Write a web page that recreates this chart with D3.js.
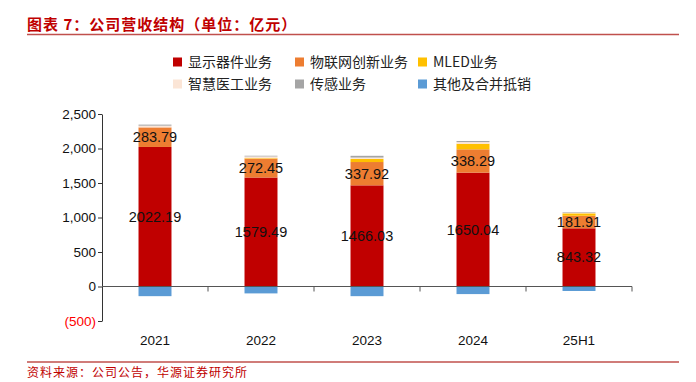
<!DOCTYPE html>
<html>
<head>
<meta charset="utf-8">
<script src="https://cdn.jsdelivr.net/npm/d3@7"></script>
<style>
  body { margin: 0; background: #fff; }
  text { font-family: "Liberation Sans", Arial, "Noto Sans CJK SC", sans-serif; }
  .cjk { font-family: "Noto Sans CJK SC", sans-serif; }
</style>
</head>
<body>
<svg id="chart" width="696" height="382"></svg>
<script>
// data (亿元)
var years = ['2021', '2022', '2023', '2024', '25H1'];
var display = [2022.19, 1579.49, 1466.03, 1650.04, 843.32];   // 显示器件业务
var iot = [283.79, 272.45, 337.92, 338.29, 181.91];           // 物联网创新业务
var mled = [0, 8, 45, 80, 35];                                // MLED业务
var medical = [25, 25, 20, 25, 10];                           // 智慧医工业务
var sensing = [15, 10, 25, 15, 8];                            // 传感业务
var other = [-140, -100, -140, -110, -65];                    // 其他及合并抵销
var yTicks = [-500, 0, 500, 1000, 1500, 2000, 2500];

var seriesNames = ['显示器件业务', '物联网创新业务', 'MLED业务', '智慧医工业务', '传感业务', '其他及合并抵销'];
var colors = ['#C00000', '#ED7D31', '#FFC000', '#FBE5D6', '#A5A5A5', '#5B9BD5'];
var stackSeries = [display, iot, mled, medical, sensing];

var svg = d3.select('#chart');

// title + rule
svg.append('text')
  .attr('class', 'cjk')
  .attr('x', 27).attr('y', 30)
  .attr('fill', '#C00000')
  .attr('font-size', 15).attr('font-weight', 'bold')
  .attr('letter-spacing', 1)
  .text('图表 7：公司营收结构（单位：亿元）');
svg.append('line')
  .attr('x1', 27).attr('x2', 679).attr('y1', 34.5).attr('y2', 34.5)
  .attr('stroke', '#C0504D').attr('stroke-width', 1.5);

// scales
var x = d3.scaleBand().domain(years).range([102, 632])
  .paddingInner(0.689).paddingOuter(0.3445);
var y = d3.scaleLinear().domain([-500, 2500]).range([321, 114]);

// stacked bars
years.forEach(function(yr, i) {
  var base = 0;
  stackSeries.forEach(function(s, k) {
    var v = s[i];
    if (v > 0) {
      svg.append('rect')
        .attr('x', x(yr)).attr('width', x.bandwidth())
        .attr('y', y(base + v)).attr('height', y(base) - y(base + v))
        .attr('fill', colors[k]);
    }
    base += v;
  });
  svg.append('rect')
    .attr('x', x(yr)).attr('width', x.bandwidth())
    .attr('y', y(0)).attr('height', y(other[i]) - y(0))
    .attr('fill', colors[5]);
});

// value labels
years.forEach(function(yr, i) {
  var cx = x(yr) + x.bandwidth() / 2;
  svg.append('text')
    .attr('x', cx).attr('y', y(display[i] / 2)).attr('dy', '0.35em')
    .attr('text-anchor', 'middle').attr('font-size', 14.5).attr('fill', '#111')
    .text(display[i].toFixed(2));
  svg.append('text')
    .attr('x', cx).attr('y', y(display[i] + iot[i] / 2)).attr('dy', '0.35em')
    .attr('text-anchor', 'middle').attr('font-size', 14.5).attr('fill', '#111')
    .text(iot[i].toFixed(2));
});

// y axis
var yAxis = d3.axisLeft(y).tickValues(yTicks).tickSize(4).tickSizeOuter(0)
  .tickFormat(function(d) { return d < 0 ? '(' + d3.format(',')(-d) + ')' : d3.format(',')(d); });
var gy = svg.append('g').attr('transform', 'translate(102,0)').call(yAxis);
gy.select('.domain').attr('stroke', '#333');
gy.selectAll('.tick line').attr('stroke', '#333');
gy.selectAll('.tick text')
  .attr('font-size', 13.5).attr('x', -6)
  .attr('fill', function(d) { return d < 0 ? '#FF0000' : '#111'; })
  .style('font-family', '"Liberation Sans", Arial, sans-serif');

// zero line with category separators
svg.append('line')
  .attr('x1', 102).attr('x2', x.range()[1])
  .attr('y1', y(0)).attr('y2', y(0))
  .attr('stroke', '#555').attr('stroke-width', 1);
d3.range(1, years.length + 1).forEach(function(k) {
  var tx = x.range()[0] + k * x.step();
  svg.append('line')
    .attr('x1', tx).attr('x2', tx).attr('y1', y(0)).attr('y2', y(0) + 5)
    .attr('stroke', '#555');
});

// x labels
years.forEach(function(yr) {
  svg.append('text')
    .attr('x', x(yr) + x.bandwidth() / 2).attr('y', 345)
    .attr('text-anchor', 'middle').attr('font-size', 13.5).attr('fill', '#111')
    .text(yr);
});

// legend
var legendPos = [
  [173, 62], [295, 62], [418, 62],
  [173, 84], [295, 84], [418, 84]
];
var legendOrder = [0, 1, 2, 3, 4, 5];
legendOrder.forEach(function(k, j) {
  var p = legendPos[j];
  svg.append('rect')
    .attr('x', p[0]).attr('y', p[1] - 4.5).attr('width', 9).attr('height', 9)
    .attr('fill', colors[k]);
  svg.append('text')
    .attr('class', 'cjk')
    .attr('x', p[0] + 15).attr('y', p[1]).attr('dy', '0.35em')
    .attr('font-size', 14).attr('fill', '#222')
    .text(seriesNames[k]);
});

// source rule + note
svg.append('line')
  .attr('x1', 27).attr('x2', 679).attr('y1', 362).attr('y2', 362)
  .attr('stroke', '#C0504D').attr('stroke-width', 1.5);
svg.append('text')
  .attr('class', 'cjk')
  .attr('x', 27).attr('y', 377)
  .attr('fill', '#C00000').attr('font-size', 12)
  .attr('letter-spacing', 1)
  .text('资料来源：公司公告，华源证券研究所');
</script>
</body>
</html>
